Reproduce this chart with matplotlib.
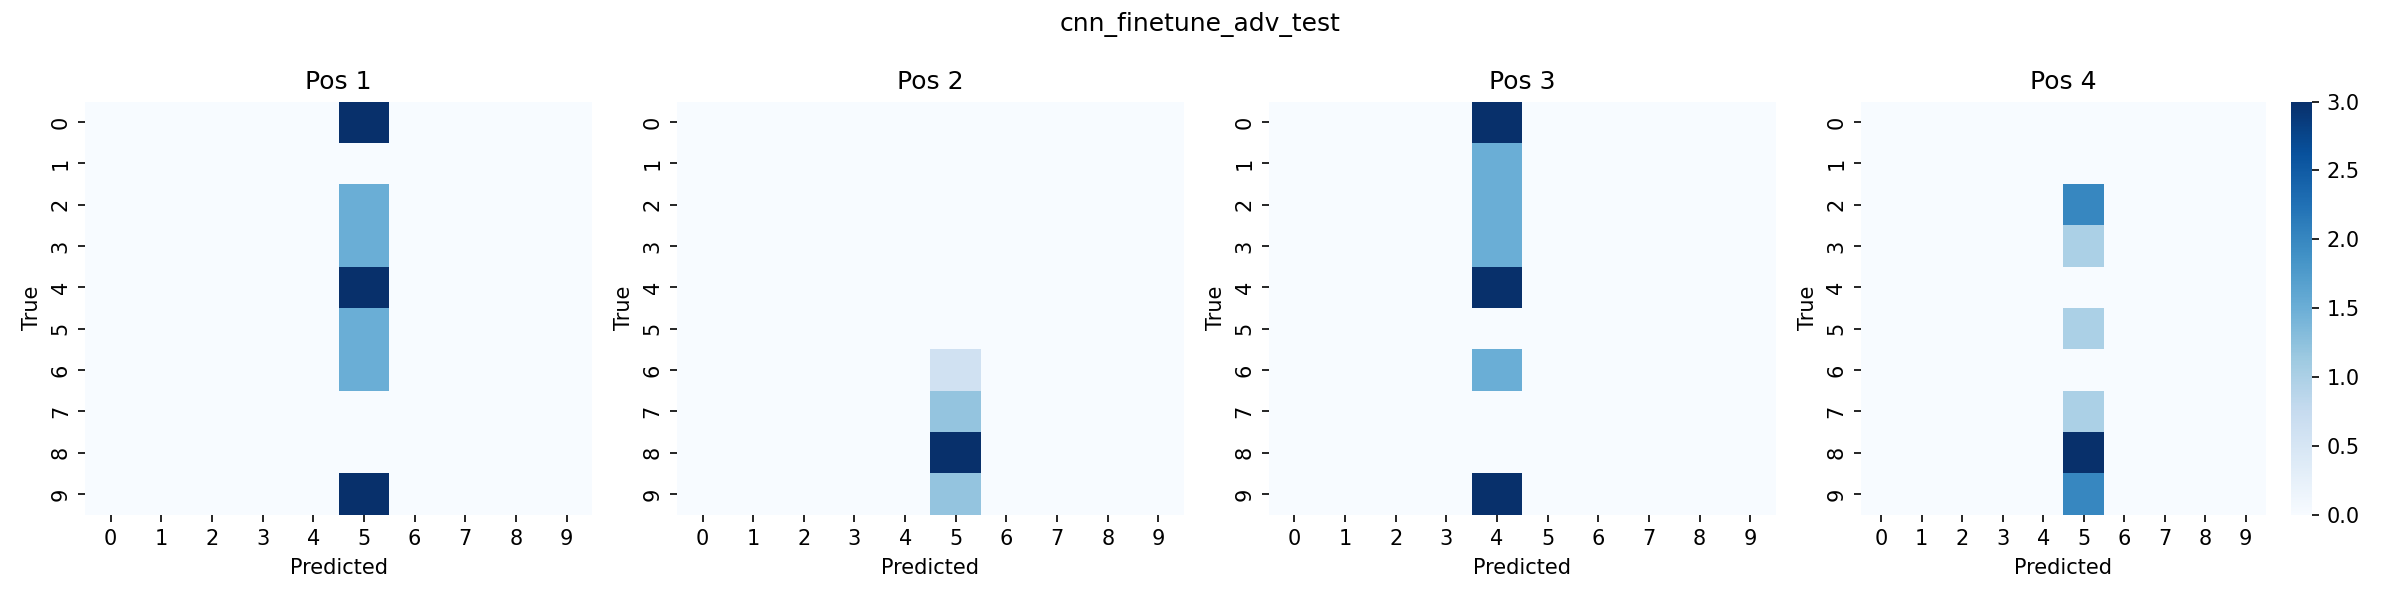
import numpy as np
import matplotlib

matplotlib.use("Agg")
import matplotlib.pyplot as plt
import seaborn as sns

TITLE = "cnn_finetune_adv_test"
CLASSES = list(range(10))
PANELS = ["Pos 1", "Pos 2", "Pos 3", "Pos 4"]

# predicted column per panel, and counts per true row in that column
PRED_COL = [5, 5, 4, 5]
COUNTS = [
    [2, 0, 1, 1, 2, 1, 1, 0, 0, 2],
    [0, 0, 0, 0, 0, 0, 1, 2, 5, 2],
    [2, 1, 1, 1, 2, 0, 1, 0, 0, 2],
    [0, 0, 2, 1, 0, 1, 0, 1, 3, 2],
]


def confusion(col, counts):
    cm = np.zeros((len(CLASSES), len(CLASSES)), dtype=int)
    cm[:, col] = counts
    return cm


fig, axes = plt.subplots(1, 4, figsize=(16, 4), dpi=150)
for i, ax in enumerate(axes):
    cm = confusion(PRED_COL[i], COUNTS[i])
    sns.heatmap(cm, ax=ax, cmap="Blues", cbar=(i == len(axes) - 1),
                xticklabels=CLASSES, yticklabels=CLASSES)
    ax.set_title(PANELS[i])
    ax.set_xlabel("Predicted")
    ax.set_ylabel("True")
fig.suptitle(TITLE)
fig.tight_layout()
fig.savefig("out.png", dpi=150)
